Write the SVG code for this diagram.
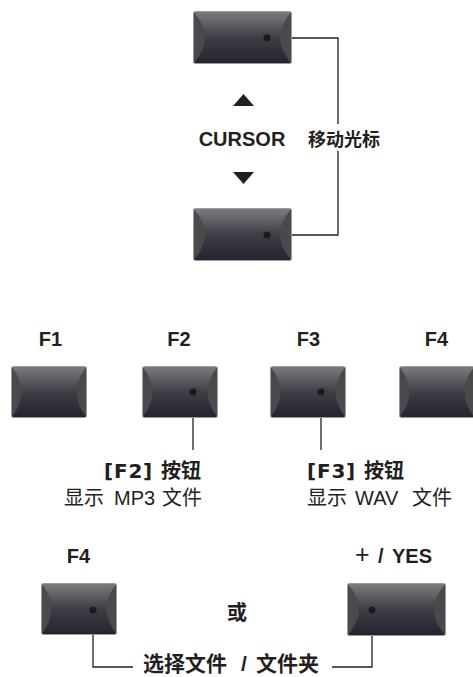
<svg xmlns="http://www.w3.org/2000/svg" xmlns:xlink="http://www.w3.org/1999/xlink" width="473" height="677" viewBox="0 0 473 677">
<style>
.body{fill:url(#kg)}
.side{fill:#4a4a4d}
.edge{fill:none;stroke:#9a9a9c;stroke-width:1}
.dot{fill:#1a1a1a}
.conn{fill:none;stroke:#231f20;stroke-width:1.3}
.lat{font-family:"Liberation Sans","Noto Sans CJK SC",sans-serif;font-weight:bold;fill:#231f20}
.cjkb{font-family:"Liberation Sans","Noto Sans CJK SC",sans-serif;font-weight:bold;fill:#231f20}
.cjk{font-family:"Liberation Sans","Noto Sans CJK SC",sans-serif;font-weight:normal;fill:#231f20}
.brk{font-family:"DejaVu Sans","Liberation Sans",sans-serif;font-weight:bold;letter-spacing:0.8px}
.tri{fill:#231f20}
</style>
<defs>
<linearGradient id="kg" x1="0" y1="0" x2="0" y2="1">
<stop offset="0" stop-color="#7c7c80"/>
<stop offset="0.5" stop-color="#3e3e46"/>
<stop offset="1" stop-color="#24232f"/>
</linearGradient>
<symbol id="k76" width="76" height="52" viewBox="0 0 76 52" overflow="visible">
<rect class="body" x="0.5" y="0.5" width="75" height="51" rx="2"/>
<path class="side" d="M0.8,1 Q20,26 0.8,51 Z"/>
<path class="side" d="M75.2,1 Q56,26 75.2,51 Z"/>
<rect class="edge" x="0.5" y="0.5" width="75" height="51" rx="2"/>
</symbol>
<symbol id="k99" width="99" height="53" viewBox="0 0 99 53" overflow="visible">
<rect class="body" x="0.5" y="0.5" width="98" height="52" rx="2"/>
<path class="side" d="M0.8,1 Q23,26.5 0.8,52 Z"/>
<path class="side" d="M98.2,1 Q76,26.5 98.2,52 Z"/>
<rect class="edge" x="0.5" y="0.5" width="98" height="52" rx="2"/>
</symbol>
</defs>
<rect width="473" height="677" fill="#ffffff"/>

<g id="connectors">
<path class="conn" d="M267,38 H338 V124"/>
<path class="conn" d="M338,151 V235 H267"/>
<path class="conn" d="M193,392 V450"/>
<path class="conn" d="M321,392 V450"/>
<path class="conn" d="M93,610 V667 H133"/>
<path class="conn" d="M372,610 V667 H332"/>
</g>

<g id="cursor-up"><use href="#k99" x="193" y="11"/><circle class="dot" cx="267" cy="38" r="3.5"/></g>
<g id="cursor-down"><use href="#k99" x="193" y="208"/><circle class="dot" cx="267" cy="235" r="3.5"/></g>
<g id="cursor-label">
<polygon class="tri" points="233,106 254,106 243.5,94"/>
<text class="lat" x="242" y="146" font-size="20" text-anchor="middle">CURSOR</text>
<polygon class="tri" points="233,172 254,172 243.5,184"/>
</g>
<g id="move-label"><text class="cjkb" x="308" y="146" font-size="18">移动光标</text></g>

<g id="f1"><text class="lat" x="50.5" y="346" font-size="20" text-anchor="middle">F1</text><use href="#k76" x="11" y="366"/></g>
<g id="f2"><text class="lat" x="179" y="346" font-size="20" text-anchor="middle">F2</text><use href="#k76" x="142" y="366"/><circle class="dot" cx="193" cy="392" r="3.5"/></g>
<g id="f3"><text class="lat" x="308.5" y="346" font-size="20" text-anchor="middle">F3</text><use href="#k76" x="270" y="366"/><circle class="dot" cx="321" cy="392" r="3.5"/></g>
<g id="f4"><text class="lat" x="436.5" y="346" font-size="20" text-anchor="middle">F4</text><use href="#k76" x="399" y="366"/></g>

<g id="f2-label">
<text class="cjkb" y="478" font-size="20"><tspan class="brk" x="104">[F2]</tspan><tspan x="161">按钮</tspan></text>
<text class="cjk" y="505" font-size="20"><tspan x="64">显示</tspan><tspan x="114">MP3</tspan><tspan x="162">文件</tspan></text>
</g>
<g id="f3-label">
<text class="cjkb" y="478" font-size="20"><tspan class="brk" x="307">[F3]</tspan><tspan x="364">按钮</tspan></text>
<text class="cjk" y="505" font-size="20"><tspan x="307">显示</tspan><tspan x="355">WAV</tspan><tspan x="412">文件</tspan></text>
</g>

<g id="f4-select"><text class="lat" x="78.5" y="563" font-size="20" text-anchor="middle">F4</text><use href="#k76" x="41" y="583"/><circle class="dot" cx="93" cy="610" r="3.5"/></g>
<g id="yes-select"><text class="lat" y="563" font-size="20"><tspan x="355" font-weight="normal" font-size="25">+</tspan><tspan x="378">/</tspan><tspan x="392">YES</tspan></text><use href="#k99" x="347" y="583"/><circle class="dot" cx="372" cy="610" r="3.5"/></g>
<g id="or-label"><text class="cjkb" x="237" y="620" font-size="20" text-anchor="middle">或</text></g>
<g id="select-label"><text class="cjkb" y="671" font-size="21"><tspan x="143">选择文件</tspan><tspan x="241">/</tspan><tspan x="256">文件夹</tspan></text></g>
</svg>
